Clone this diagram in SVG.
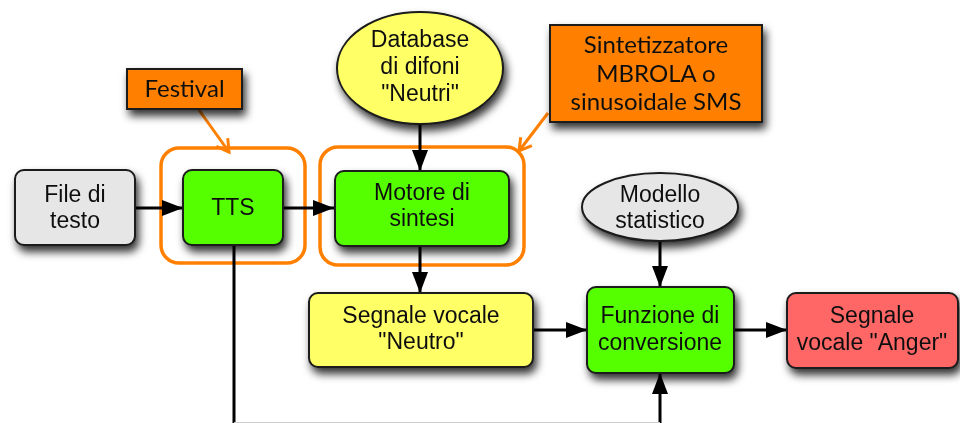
<svg xmlns="http://www.w3.org/2000/svg" width="960" height="423" viewBox="0 0 960 423">
<style>
.box{stroke:#1a1a1a;stroke-width:2}
.t{font-family:"Liberation Sans",Arial,sans-serif;font-size:23px;fill:#111;text-anchor:middle}
.o{font-family:"Lato","DejaVu Sans",sans-serif;font-size:24px;fill:#111;text-anchor:middle}
.c{stroke:#000;stroke-width:3;fill:none}
.oc{stroke:#FF8000;stroke-width:3;fill:none}
.grp{stroke:#FF8000;stroke-width:3.5;fill:none}
</style>
<defs>
<filter id="sh" x="-20%" y="-20%" width="150%" height="160%">
<feDropShadow dx="3" dy="6" stdDeviation="4" flood-color="#000" flood-opacity="0.8"/>
</filter>
<marker id="ah" markerUnits="userSpaceOnUse" markerWidth="24" markerHeight="18" refX="21" refY="8" orient="auto">
<path d="M0,0 L21,8 L0,16 z" fill="#000"/>
</marker>
<marker id="oh" markerUnits="userSpaceOnUse" markerWidth="20" markerHeight="20" refX="14" refY="9" orient="auto">
<path d="M2,2 L14,9 L2,16" fill="none" stroke="#FF8000" stroke-width="3"/>
</marker>
</defs>
<rect width="960" height="423" fill="#fff"/>

<g id="groups">
<rect id="group-tts" x="161" y="148" width="144" height="115" rx="18" class="grp"/>
<rect id="group-motore" x="320" y="147" width="204" height="118" rx="18" class="grp"/>
</g>

<g id="connectors">
<line x1="135" y1="208" x2="183" y2="208" class="c" marker-end="url(#ah)"/>
<line x1="283" y1="208" x2="334" y2="208" class="c" marker-end="url(#ah)"/>
<line x1="420" y1="124" x2="420" y2="171" class="c" marker-end="url(#ah)"/>
<line x1="420" y1="246" x2="420" y2="293" class="c" marker-end="url(#ah)"/>
<line x1="533" y1="330" x2="587" y2="330" class="c" marker-end="url(#ah)"/>
<line x1="660" y1="241" x2="660" y2="287" class="c" marker-end="url(#ah)"/>
<line x1="734" y1="330" x2="787" y2="330" class="c" marker-end="url(#ah)"/>
<line x1="234" y1="245" x2="234" y2="423" class="c"/>
<line x1="660" y1="423" x2="660" y2="373" class="c" marker-end="url(#ah)"/>
<line x1="234" y1="422.5" x2="660" y2="422.5" stroke="#ccc" stroke-width="1"/>
<line x1="199" y1="110" x2="229" y2="152" class="oc" marker-end="url(#oh)"/>
<line x1="548" y1="113" x2="519" y2="151" class="oc" marker-end="url(#oh)"/>
</g>

<g id="festival" filter="url(#sh)">
<rect x="127" y="69" width="115" height="40" fill="#FF8000" class="box"/>
<text x="184.5" y="97" class="o">Festival</text>
</g>

<g id="sintetizzatore" filter="url(#sh)">
<rect x="550" y="25" width="212" height="97" fill="#FF8000" class="box"/>
<text x="656" y="53" class="o">Sintetizzatore</text>
<text x="656" y="82" class="o">MBROLA o</text>
<text x="656" y="110" class="o">sinusoidale SMS</text>
</g>

<g id="file-di-testo" filter="url(#sh)">
<rect x="15" y="170" width="120" height="75" rx="9" fill="#E6E6E6" class="box"/>
<text x="75" y="202" class="t">File di</text>
<text x="75" y="228" class="t">testo</text>
</g>

<g id="tts" filter="url(#sh)">
<rect x="183" y="170" width="100" height="75" rx="9" fill="#55FF00" class="box"/>
<text x="233" y="215" class="t">TTS</text>
</g>

<g id="database" filter="url(#sh)">
<ellipse cx="420" cy="68" rx="83" ry="56" fill="#FFFF66" class="box"/>
<text x="420" y="47" class="t">Database</text>
<text x="420" y="74" class="t">di difoni</text>
<text x="420" y="101" class="t">"Neutri"</text>
</g>

<g id="motore" filter="url(#sh)">
<rect x="335" y="171" width="174" height="75" rx="9" fill="#55FF00" class="box"/>
<text x="422" y="200" class="t">Motore di</text>
<text x="422" y="226" class="t">sintesi</text>
</g>

<g id="modello" filter="url(#sh)">
<ellipse cx="660" cy="207" rx="78" ry="34" fill="#E6E6E6" class="box"/>
<text x="660" y="202" class="t">Modello</text>
<text x="660" y="228" class="t">statistico</text>
</g>

<g id="segnale-neutro" filter="url(#sh)">
<rect x="309" y="293" width="224" height="74" rx="9" fill="#FFFF66" class="box"/>
<text x="421" y="323" class="t">Segnale vocale</text>
<text x="421" y="349" class="t">"Neutro"</text>
</g>

<g id="funzione" filter="url(#sh)">
<rect x="587" y="287" width="147" height="86" rx="9" fill="#55FF00" class="box"/>
<text x="660" y="323" class="t">Funzione di</text>
<text x="660" y="350" class="t">conversione</text>
</g>

<g id="segnale-anger" filter="url(#sh)">
<rect x="787" y="293" width="171" height="75" rx="9" fill="#FF6666" class="box"/>
<text x="872" y="323" class="t">Segnale</text>
<text x="872" y="350" class="t">vocale "Anger"</text>
</g>
</svg>
